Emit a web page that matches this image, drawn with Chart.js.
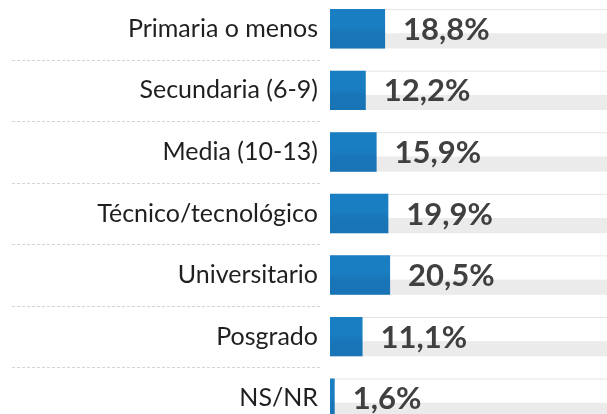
<!DOCTYPE html>
<html><head><meta charset="utf-8">
<script src="https://cdn.jsdelivr.net/npm/chart.js@4"></script>
<style>
html,body{margin:0;padding:0;background:#fff;overflow:hidden;width:607px;height:414px;}
#wrap{position:absolute;left:0;top:-2px;width:607px;height:431px;}
</style></head><body>
<div id="wrap"><canvas id="c"></canvas></div>
<script>
const categories = ["Primaria o menos","Secundaria (6-9)","Media (10-13)","Técnico/tecnológico","Universitario","Posgrado","NS/NR"];
const values = [18.8,12.2,15.9,19.9,20.5,11.1,1.6];
const valueLabels = ["18,8%","12,2%","15,9%","19,9%","20,5%","11,1%","1,6%"];
const axisMax = 94.5;

const bgStrip = {
  id:'bgStrip',
  beforeDatasetsDraw(chart){
    const ctx = chart.ctx, area = chart.chartArea;
    const meta = chart.getDatasetMeta(0);
    ctx.save();
    meta.data.forEach(bar=>{
      const top = bar.y - bar.height/2, bot = bar.y + bar.height/2;
      const split = top + bar.height*0.615;
      ctx.fillStyle = '#ebebeb';
      ctx.fillRect(bar.base, split, area.right - bar.base, bot - split);
      ctx.fillStyle = '#e4e4e4';
      ctx.fillRect(bar.base, top, area.right - bar.base, 1);
    });
    ctx.restore();
  },
  afterDatasetsDraw(chart){
    const ctx = chart.ctx;
    const meta = chart.getDatasetMeta(0);
    ctx.save();
    meta.data.forEach((bar,i)=>{
      const top = bar.y - bar.height/2;
      const g = ctx.createLinearGradient(0, top, 0, top + bar.height);
      g.addColorStop(0,'rgba(0,0,0,0)');
      g.addColorStop(0.45,'rgba(0,0,0,0)');
      g.addColorStop(0.65,'rgba(10,40,80,0.10)');
      g.addColorStop(1,'rgba(10,40,80,0.12)');
      ctx.fillStyle = g;
      ctx.fillRect(bar.base, top, bar.x - bar.base, bar.height);
      ctx.fillStyle = '#404040';
      ctx.font = 'bold 31px Lato';
      ctx.textAlign = 'left';
      ctx.textBaseline = 'alphabetic';
      ctx.fillText(valueLabels[i], bar.x + 18, bar.y + 11);
    });
    const y = chart.scales.y;
    ctx.strokeStyle = '#d4d4d4';
    ctx.lineWidth = 1;
    ctx.setLineDash([3,2]);
    for(let i=0;i<categories.length-1;i++){
      const py = Math.round((y.getPixelForValue(i)+y.getPixelForValue(i+1))/2)+0.5;
      ctx.beginPath(); ctx.moveTo(12,py); ctx.lineTo(322,py); ctx.stroke();
    }
    ctx.restore();
  }
};

new Chart(document.getElementById('c'),{
  type:'bar',
  data:{labels:categories,datasets:[{data:values,backgroundColor:'#1a7ec3',borderWidth:0,barPercentage:0.64,categoryPercentage:1}]},
  options:{
    indexAxis:'y',responsive:true,maintainAspectRatio:false,animation:false,
    layout:{padding:0},
    plugins:{legend:{display:false},tooltip:{enabled:false}},
    scales:{
      x:{display:false,min:0,max:axisMax},
      y:{grid:{display:false},border:{display:false},
         ticks:{color:'#1f1f1f',font:{family:'Lato',size:25},padding:4},
         afterFit(s){s.width=330;s.paddingTop=0;s.paddingBottom=0;}}
    }
  },
  plugins:[bgStrip]
});
</script></body></html>
